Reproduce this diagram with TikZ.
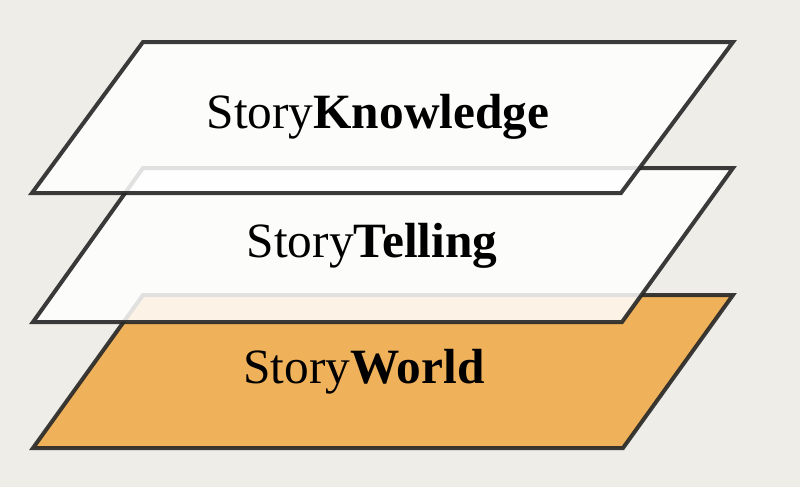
\documentclass[tikz,border=0pt]{standalone}
\usepackage{fontspec}
\setmainfont{Liberation Serif}
\usetikzlibrary{positioning}
\usetikzlibrary{calc}

\definecolor{paper}{HTML}{EFEDE8}
\definecolor{worldfill}{HTML}{EFB25A}
\definecolor{edge}{HTML}{262626}

\begin{document}
\begin{tikzpicture}[
                            x=0.75pt, y=-0.75pt,
                            layer/.style={draw=edge, line width=3pt, line join=miter, fill=white, fill opacity=0.85, draw opacity=0.9},
                            world/.style={layer, fill=worldfill, fill opacity=1},
                            label/.style={anchor=base, font=\fontsize{37}{40}\selectfont, text=black}
                            ]
                            % background
                            \fill[paper] (0,0) rectangle (800,487);
                            \useasboundingbox (0,0) rectangle (800,487);

                            % layers, bottom one first
                            \draw[world] (143,295) -- (733,295) -- (623,448) -- (33,448) -- cycle;
                            \draw[layer] (143,168) -- (733,168) -- (622,322) -- (33,322) -- cycle;
                            \draw[layer] (143,42)  -- (733,42)  -- (621,193) -- (32,193) -- cycle;

                            \node[label] (knowledge) at (378,128) {Story\textbf{Knowledge}};
                            \node[label] (telling)   at (372,257) {Story\textbf{Telling}};
                            \node[label] (world)     at (364,383) {Story\textbf{World}};
                        \end{tikzpicture}
\end{document}
